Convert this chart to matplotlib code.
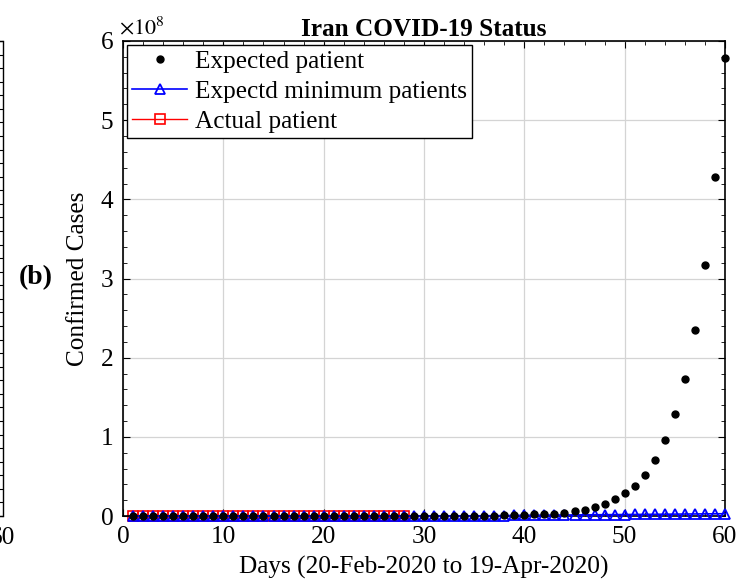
import numpy as np
import matplotlib
matplotlib.use("Agg")
import matplotlib.pyplot as plt
from matplotlib.ticker import FuncFormatter, MultipleLocator

plt.rcParams['font.family'] = ['Liberation Serif', 'DejaVu Serif']
plt.rcParams['mathtext.fontset'] = 'stix'

# --- data ---
days = list(range(1, 61))

expected = [12, 16, 22, 30, 40, 54, 73, 99, 134, 181,
            244, 330, 445, 600, 810, 1100, 1480, 2000, 2700, 3650,
            4900, 6650, 9000, 12100, 16400, 22100, 29800, 40300, 54400, 73400,
            99000, 134000, 181000, 244000, 330000, 445000, 600000, 810000, 1.1e6, 1.48e6,
            2.0e6, 2.2e6, 3.0e6, 4.3e6, 6.0e6, 8.0e6, 1.2e7, 1.5e7, 2.2e7, 2.9e7,
            3.8e7, 5.2e7, 7.1e7, 9.6e7, 1.29e8, 1.73e8, 2.35e8, 3.17e8, 4.28e8, 5.79e8]

expected_min = [5, 8, 12, 17, 24, 33, 45, 62, 85, 115,
                155, 210, 285, 385, 520, 700, 950, 1280, 1730, 2340,
                3150, 4250, 5750, 7750, 10500, 14100, 19000, 25700, 34700, 46800,
                63200, 85300, 115000, 155000, 210000, 283000, 382000, 515000, 695000, 940000,
                1.0e6, 1.1e6, 1.2e6, 1.3e6, 1.4e6, 1.5e6, 1.6e6, 1.7e6, 1.8e6, 1.9e6,
                2.0e6, 2.1e6, 2.2e6, 2.3e6, 2.4e6, 2.5e6, 2.6e6, 2.7e6, 2.8e6, 2.9e6]

actual_days = list(range(1, 29))
actual = [5, 18, 28, 43, 61, 95, 139, 245, 388, 593,
          978, 1501, 2336, 2922, 3513, 4747, 5823, 6566, 7161, 8042,
          9000, 10075, 11364, 12729, 13938, 14991, 16169, 17361]

FS = 18.2

# --- figure ---
fig = plt.figure(figsize=(7.39, 5.84), dpi=100)

# cut-off neighbour panel on the left
ax0 = fig.add_axes([-0.6, 0.1164, 0.6 + 2.5 / 739, 0.8134])
ax0.set_xlim(0, 60)
ax0.set_ylim(0, 35)
ax0.set_xticks([0, 10, 20, 30, 40, 50, 60])
ax0.set_xticklabels(['', '', '', '', '', '', '60'])
ax0.yaxis.set_major_locator(MultipleLocator(1))
ax0.set_yticklabels([])
ax0.tick_params(direction='in', right=True, left=False, top=False, bottom=False,
                length=3, labelsize=FS, pad=8)
for s in ax0.spines.values():
    s.set_linewidth(1.0)

ax = fig.add_axes([123 / 739, 0.1164, 602 / 739, 0.8134])

ax.plot(actual_days, actual, 'r-', marker='s', markersize=7.5, markerfacecolor='none',
        markeredgecolor='red', markeredgewidth=1.2, linewidth=1, zorder=2,
        clip_on=False, label='Actual patient')
ax.plot(days, expected_min, 'b-', marker='^', markersize=6.5, markerfacecolor='none',
        markeredgecolor='blue', markeredgewidth=1.3, linewidth=1.2, zorder=3,
        clip_on=False, label='Expectd minimum patients')
ax.plot(days, expected, linestyle='none', marker='o', markersize=5, color='black',
        zorder=4, clip_on=False, label='Expected patient')

ax.set_xlim(0, 60)
ax.set_ylim(0, 6e8)
ax.xaxis.set_major_locator(MultipleLocator(10))
ax.xaxis.set_minor_locator(MultipleLocator(2))
ax.yaxis.set_major_locator(MultipleLocator(1e8))
ax.yaxis.set_minor_locator(MultipleLocator(0.2e8))
ax.yaxis.set_major_formatter(FuncFormatter(lambda v, p: '%g' % (v / 1e8)))
ax.tick_params(which='both', direction='in', top=True, right=True, labelsize=FS)
ax.tick_params(which='major', length=5, pad=7)
ax.tick_params(which='minor', length=3)
ax.grid(True, which='major', color='#d4d4d4', linewidth=0.9)
ax.set_axisbelow(True)
for s in ax.spines.values():
    s.set_linewidth(1.2)

ax.text(-0.006, 1.004, r'$\times10^{8}$', transform=ax.transAxes, fontsize=16,
        ha='left', va='bottom')
ax.set_title('Iran COVID-19 Status', fontsize=FS, fontweight='bold', pad=2)
ax.set_xlabel('Days (20-Feb-2020 to 19-Apr-2020)', fontsize=FS, labelpad=6)
ax.set_ylabel('Confirmed Cases', fontsize=FS, labelpad=8)
fig.text(36 / 739, 1 - 278 / 584, '(b)', fontsize=20, fontweight='bold',
         ha='center', va='center')

h, l = ax.get_legend_handles_labels()
leg = ax.legend(h[::-1], l[::-1], loc='upper left', fontsize=FS, frameon=True,
                fancybox=False, edgecolor='black', framealpha=1, borderpad=0.2,
                labelspacing=0.3, handlelength=2.2, handletextpad=0.3,
                borderaxespad=0.15)
leg.get_frame().set_linewidth(1.0)

fig.savefig('out.png', dpi=100)
